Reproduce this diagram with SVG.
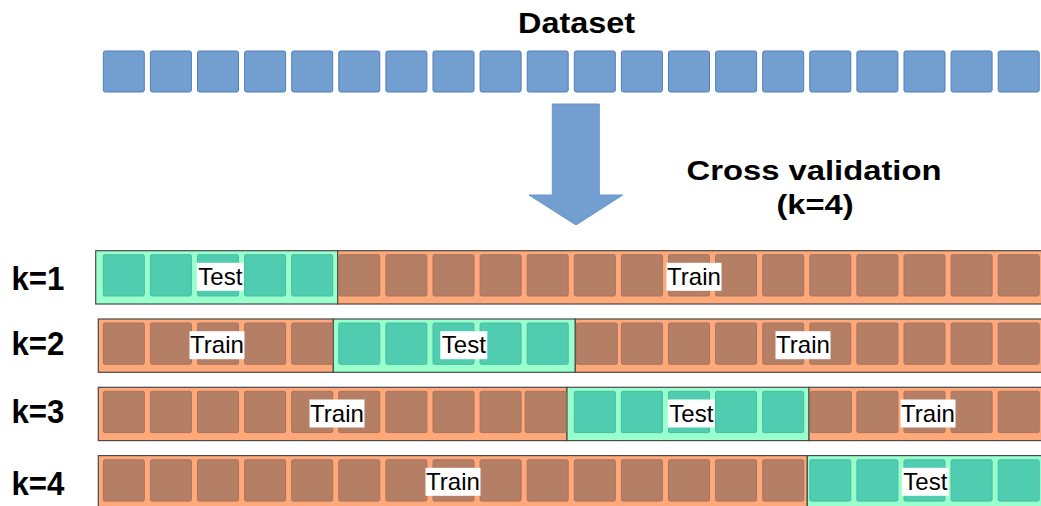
<svg xmlns="http://www.w3.org/2000/svg" xmlns:xlink="http://www.w3.org/1999/xlink" width="1041" height="506" viewBox="0 0 1041 506">
<style>
.title{font-family:"Liberation Sans",Arial,sans-serif;font-weight:bold;fill:#000;text-anchor:middle}
.lbl{font-family:"Liberation Sans",Arial,sans-serif;font-size:24px;fill:#000;text-anchor:middle}
.klbl{font-family:"Liberation Sans",Arial,sans-serif;font-weight:bold;font-size:33px;fill:#000}
.bsq{fill:#729fcf;stroke:#4f7fbb;stroke-width:1}
.trbg{fill:#ffa97b;stroke:#4a4a4a;stroke-width:1.2}
.tebg{fill:#99ffcc;stroke:#4a4a4a;stroke-width:1.2}
.trsq{fill:#b57f66;stroke:#a8735c;stroke-width:1}
.tesq{fill:#50cdb0;stroke:#45bda0;stroke-width:1}
.lblbg{fill:#fff}
.arrow{fill:#729fcf;stroke:#6a96c8;stroke-width:1}
</style>
<defs>
<rect id="bs" class="bsq" x="0" y="0" width="41" height="41" rx="2"/>
<rect id="tr" class="trsq" x="0" y="0" width="41" height="41.3" rx="1.5"/>
<rect id="te" class="tesq" x="0" y="0" width="41" height="41.3" rx="1.5"/>
</defs>
<rect width="1041" height="506" fill="#fff"/>

<g id="dataset">
<text class="title" x="576.5" y="33" font-size="30" textLength="117" lengthAdjust="spacingAndGlyphs">Dataset</text>
<g transform="translate(0,51)">
<use xlink:href="#bs" x="103.3"/><use xlink:href="#bs" x="150.4"/><use xlink:href="#bs" x="197.5"/><use xlink:href="#bs" x="244.6"/><use xlink:href="#bs" x="291.7"/>
<use xlink:href="#bs" x="338.8"/><use xlink:href="#bs" x="385.9"/><use xlink:href="#bs" x="433"/><use xlink:href="#bs" x="480.1"/><use xlink:href="#bs" x="527.2"/>
<use xlink:href="#bs" x="574.3"/><use xlink:href="#bs" x="621.4"/><use xlink:href="#bs" x="668.5"/><use xlink:href="#bs" x="715.6"/><use xlink:href="#bs" x="762.7"/>
<use xlink:href="#bs" x="809.8"/><use xlink:href="#bs" x="856.9"/><use xlink:href="#bs" x="904"/><use xlink:href="#bs" x="951.1"/><use xlink:href="#bs" x="998.2"/>
</g>
</g>

<g id="connectors">
<polygon class="arrow" points="552.3,104 599.3,104 599.3,195 622.7,195 576,225 529,195 552.3,195"/>
</g>

<g id="cv-title">
<text class="title" x="814" y="180" font-size="28" textLength="255" lengthAdjust="spacingAndGlyphs">Cross validation</text>
<text class="title" x="815" y="214" font-size="28" textLength="77" lengthAdjust="spacingAndGlyphs">(k=4)</text>
</g>

<g id="row-k1">
<text class="klbl" x="11.5" y="290" textLength="53" lengthAdjust="spacingAndGlyphs">k=1</text>
<rect class="tebg" x="95.7" y="250.7" width="242" height="53.3"/>
<rect class="trbg" x="337.7" y="250.7" width="710" height="53.3"/>
<g transform="translate(0,254.7)">
<use xlink:href="#te" x="103.3"/><use xlink:href="#te" x="150.4"/><use xlink:href="#te" x="197.5"/><use xlink:href="#te" x="244.6"/><use xlink:href="#te" x="291.7"/>
<use xlink:href="#tr" x="338.8"/><use xlink:href="#tr" x="385.9"/><use xlink:href="#tr" x="433"/><use xlink:href="#tr" x="480.1"/><use xlink:href="#tr" x="527.2"/>
<use xlink:href="#tr" x="574.3"/><use xlink:href="#tr" x="621.4"/><use xlink:href="#tr" x="668.5"/><use xlink:href="#tr" x="715.6"/><use xlink:href="#tr" x="762.7"/>
<use xlink:href="#tr" x="809.8"/><use xlink:href="#tr" x="856.9"/><use xlink:href="#tr" x="904"/><use xlink:href="#tr" x="951.1"/><use xlink:href="#tr" x="998.2"/>
</g>
<rect class="lblbg" x="196.8" y="262.8" width="47" height="28"/>
<text class="lbl" x="220.3" y="285">Test</text>
<rect class="lblbg" x="666.5" y="262.8" width="55" height="28"/>
<text class="lbl" x="694" y="285">Train</text>
</g>

<g id="row-k2">
<text class="klbl" x="11.5" y="355" textLength="53" lengthAdjust="spacingAndGlyphs">k=2</text>
<rect class="trbg" x="98.3" y="319" width="235" height="53.3"/>
<rect class="tebg" x="333.3" y="319" width="242" height="53.3"/>
<rect class="trbg" x="575.3" y="319" width="470" height="53.3"/>
<g transform="translate(0,323)">
<use xlink:href="#tr" x="103.3"/><use xlink:href="#tr" x="150.4"/><use xlink:href="#tr" x="197.5"/><use xlink:href="#tr" x="244.6"/><use xlink:href="#tr" x="291.7"/>
<use xlink:href="#te" x="338.8"/><use xlink:href="#te" x="385.9"/><use xlink:href="#te" x="433"/><use xlink:href="#te" x="480.1"/><use xlink:href="#te" x="527.2"/>
<use xlink:href="#tr" x="576.3"/><use xlink:href="#tr" x="621.4"/><use xlink:href="#tr" x="668.5"/><use xlink:href="#tr" x="715.6"/><use xlink:href="#tr" x="762.7"/>
<use xlink:href="#tr" x="809.8"/><use xlink:href="#tr" x="856.9"/><use xlink:href="#tr" x="904"/><use xlink:href="#tr" x="951.1"/><use xlink:href="#tr" x="998.2"/>
</g>
<rect class="lblbg" x="189.5" y="331.2" width="55" height="28"/>
<text class="lbl" x="217" y="353.4">Train</text>
<rect class="lblbg" x="440.3" y="331.2" width="47" height="28"/>
<text class="lbl" x="463.8" y="353.4">Test</text>
<rect class="lblbg" x="775.5" y="331.2" width="55" height="28"/>
<text class="lbl" x="803" y="353.4">Train</text>
</g>

<g id="row-k3">
<text class="klbl" x="11.5" y="423" textLength="53" lengthAdjust="spacingAndGlyphs">k=3</text>
<rect class="trbg" x="98.3" y="387.3" width="468.7" height="53.3"/>
<rect class="tebg" x="567" y="387.3" width="242" height="53.3"/>
<rect class="trbg" x="809" y="387.3" width="240" height="53.3"/>
<g transform="translate(0,391.3)">
<use xlink:href="#tr" x="103.3"/><use xlink:href="#tr" x="150.4"/><use xlink:href="#tr" x="197.5"/><use xlink:href="#tr" x="244.6"/><use xlink:href="#tr" x="291.7"/>
<use xlink:href="#tr" x="338.8"/><use xlink:href="#tr" x="385.9"/><use xlink:href="#tr" x="433"/><use xlink:href="#tr" x="480.1"/><use xlink:href="#tr" x="525.2"/>
<use xlink:href="#te" x="574.3"/><use xlink:href="#te" x="621.4"/><use xlink:href="#te" x="668.5"/><use xlink:href="#te" x="715.6"/><use xlink:href="#te" x="762.7"/>
<use xlink:href="#tr" x="810.3"/><use xlink:href="#tr" x="856.9"/><use xlink:href="#tr" x="904"/><use xlink:href="#tr" x="951.1"/><use xlink:href="#tr" x="998.2"/>
</g>
<rect class="lblbg" x="309.5" y="399.5" width="55" height="28"/>
<text class="lbl" x="337" y="421.7">Train</text>
<rect class="lblbg" x="667.8" y="399.5" width="47" height="28"/>
<text class="lbl" x="691.3" y="421.7">Test</text>
<rect class="lblbg" x="900.5" y="399.5" width="55" height="28"/>
<text class="lbl" x="928" y="421.7">Train</text>
</g>

<g id="row-k4">
<text class="klbl" x="11.5" y="495" textLength="53" lengthAdjust="spacingAndGlyphs">k=4</text>
<rect class="trbg" x="98.3" y="455.6" width="709" height="53.3"/>
<rect class="tebg" x="807.3" y="455.6" width="240" height="53.3"/>
<g transform="translate(0,459.8)">
<use xlink:href="#tr" x="103.3"/><use xlink:href="#tr" x="150.4"/><use xlink:href="#tr" x="197.5"/><use xlink:href="#tr" x="244.6"/><use xlink:href="#tr" x="291.7"/>
<use xlink:href="#tr" x="338.8"/><use xlink:href="#tr" x="385.9"/><use xlink:href="#tr" x="433"/><use xlink:href="#tr" x="480.1"/><use xlink:href="#tr" x="527.2"/>
<use xlink:href="#tr" x="574.3"/><use xlink:href="#tr" x="621.4"/><use xlink:href="#tr" x="668.5"/><use xlink:href="#tr" x="715.6"/><use xlink:href="#tr" x="762.7"/>
<use xlink:href="#te" x="809.8"/><use xlink:href="#te" x="856.9"/><use xlink:href="#te" x="904"/><use xlink:href="#te" x="951.1"/><use xlink:href="#te" x="998.2"/>
</g>
<rect class="lblbg" x="425.5" y="467.8" width="55" height="28"/>
<text class="lbl" x="453" y="490">Train</text>
<rect class="lblbg" x="901.8" y="467.8" width="47" height="28"/>
<text class="lbl" x="925.3" y="490">Test</text>
</g>
</svg>
